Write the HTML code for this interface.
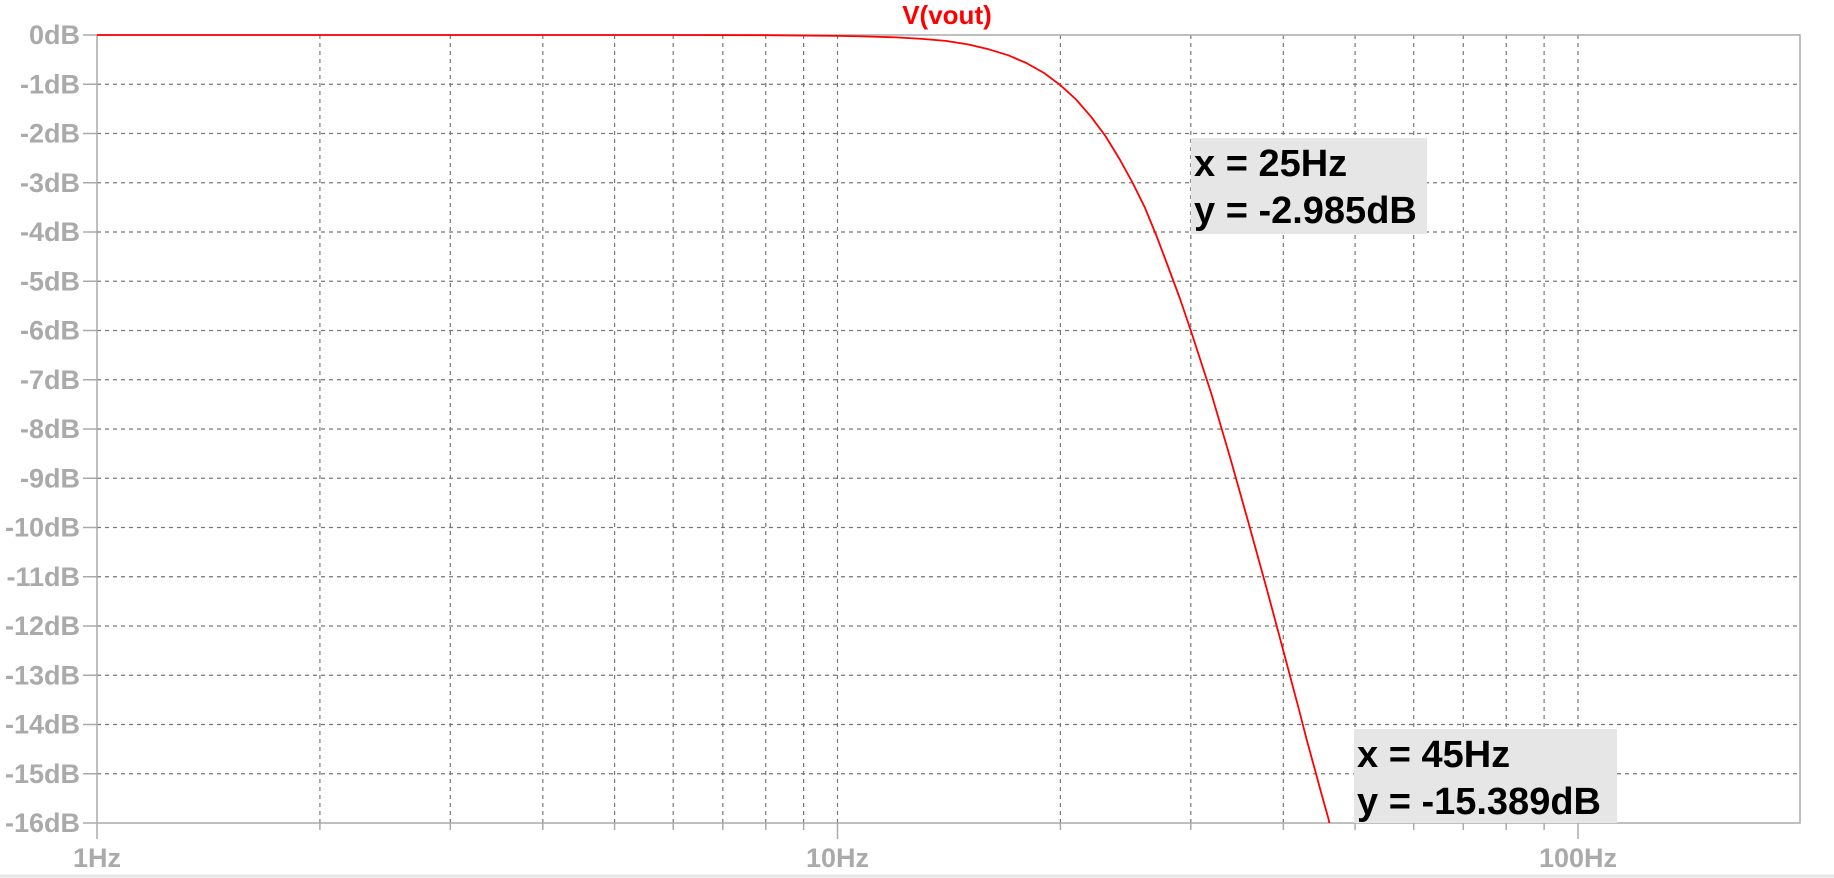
<!DOCTYPE html>
<html><head><meta charset="utf-8"><style>
body{margin:0;background:#fff}
svg{display:block;font-family:"Liberation Sans",sans-serif;font-weight:bold}
</style></head><body>
<svg id="c" width="1834" height="878" viewBox="0 0 1834 878"></svg>
<script>
const freqs=[1,3,6,8,10,11,12,13,14,15,16,17,18,19,20,21,22,23,24,25,26,27,28,29,30,32,34,36,38,40,42,43,44,45,46,47];
const gainDb=[0,0,-0.001,-0.005,-0.018,-0.031,-0.048,-0.08,-0.12,-0.19,-0.29,-0.41,-0.57,-0.77,-1.02,-1.31,-1.66,-2.05,-2.5,-2.985,-3.5,-4.1,-4.73,-5.35,-6.0,-7.3,-8.65,-9.97,-11.25,-12.5,-13.7,-14.3,-14.85,-15.389,-15.9,-16.54];
const yTicks=[0,-1,-2,-3,-4,-5,-6,-7,-8,-9,-10,-11,-12,-13,-14,-15,-16];
const xMajor=[1,10,100];
const xLabels=["1Hz","10Hz","100Hz"];
const cursors=[{f:25,db:-2.985,lx:"x = 25Hz",ly:"y = -2.985dB"},{f:45,db:-15.389,lx:"x = 45Hz",ly:"y = -15.389dB"}];
const L=97,R=1800,T=35,B=823,dec=740.5;
const X=f=>L+Math.log10(f)*dec, Y=d=>T+(-d)*(B-T)/16;
const s=document.getElementById('c'),NS="http://www.w3.org/2000/svg";
function mk(t,a,p){const e=document.createElementNS(NS,t);for(const k in a)e.setAttribute(k,a[k]);(p||s).appendChild(e);return e;}
yTicks.forEach(d=>{
 const y=Y(d);
 if(d!==0&&d!==-16){const g=mk('line',{x1:L,x2:R,y1:y,y2:y,stroke:'#777','stroke-width':1.2,'stroke-dasharray':'4,4'});
 }
 const t=mk('line',{x1:L-14,x2:L,y1:y,y2:y,stroke:'#aaa','stroke-width':1.5});
 
 const tx=mk('text',{x:L-17,y:y+9,'text-anchor':'end','font-size':27,fill:'#aaa'});
 
 tx.textContent=d+'dB';
});
for(let dcd=0;dcd<3;dcd++)for(let m=1;m<=9;m++){
 const f=Math.pow(10,dcd)*m,x=X(f);if(x>R)continue;
 if(f!==1){const g=mk('line',{x1:x,x2:x,y1:T,y2:B,stroke:'#777','stroke-width':1.2,'stroke-dasharray':'4,4'});
 }
 const tk=mk('line',{x1:x,x2:x,y1:B,y2:B+(m===1?16:7),stroke:'#aaa','stroke-width':1.5});
 
}
xMajor.forEach((f,i)=>{const t=mk('text',{x:X(f),y:867,'text-anchor':'middle','font-size':27,fill:'#aaa'});
 t.textContent=xLabels[i];});
const fr=mk('rect',{x:L,y:T,width:R-L,height:B-T,fill:'none',stroke:'#aaa','stroke-width':1.5});

const bl=mk('line',{x1:0,x2:1834,y1:876,y2:876,stroke:'#e4e4e4','stroke-width':3});

const boxes=[[1191,138,236,96],[1354,729,263,94]];
cursors.forEach((c,i)=>{const b=boxes[i];
 const r=mk('rect',{x:b[0],y:b[1],width:b[2],height:b[3],fill:'#e6e6e6'});
 
 const t1=mk('text',{x:b[0]+3,y:b[1]+38,'font-size':38,fill:'#000'});
 t1.textContent=c.lx;
 const t2=mk('text',{x:b[0]+3,y:b[1]+85,'font-size':38,fill:'#000'});
 t2.textContent=c.ly;
});
const cp=mk('clipPath',{id:'pc'});mk('rect',{x:L,y:T-2,width:R-L,height:B-T+2},cp);
const pts=freqs.map((f,i)=>X(f).toFixed(1)+','+Y(gainDb[i]).toFixed(1)).join(' ');
const pl=mk('polyline',{points:pts,fill:'none',stroke:'#f00','stroke-width':1.8,'clip-path':'url(#pc)','stroke-linejoin':'round'});

const ti=mk('text',{x:947,y:24,'text-anchor':'middle','font-size':26,fill:'#f00'});
ti.textContent='V(vout)';
</script>
</body></html>
